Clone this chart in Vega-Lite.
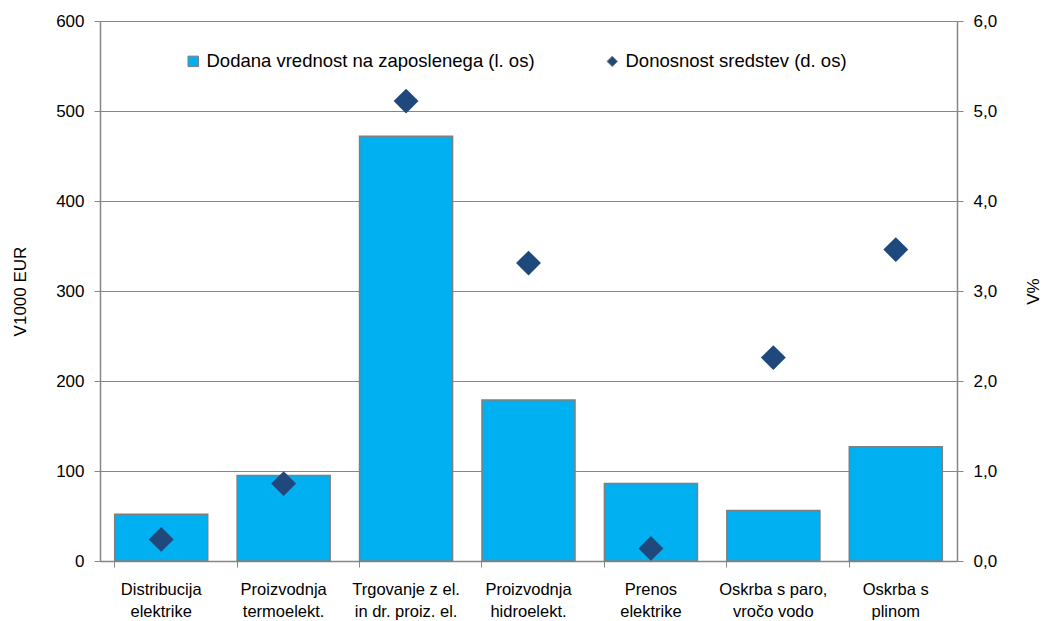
{
  "$schema": "https://vega.github.io/schema/vega-lite/v6.json",
  "autosize": "none",
  "width": 857,
  "height": 540,
  "padding": {"left": 100, "top": 21, "right": 88, "bottom": 60},
  "background": "white",
  "config": {
    "font": "Liberation Sans",
    "view": {"stroke": null},
    "axis": {"labelFont": "Liberation Sans", "titleFont": "Liberation Sans", "labelColor": "#000000", "titleColor": "#000000", "domainColor": "#868686", "tickColor": "#868686", "gridColor": "#868686", "labelFontSize": 17, "titleFontSize": 17, "titleFontWeight": "normal"}
  },
  "data": {
    "values": [
      {"cat": "Distribucija|elektrike", "series": "Dodana vrednost na zaposlenega (l. os)", "value": 52},
      {"cat": "Proizvodnja|termoelekt.", "series": "Dodana vrednost na zaposlenega (l. os)", "value": 95},
      {"cat": "Trgovanje z el.|in dr. proiz. el.", "series": "Dodana vrednost na zaposlenega (l. os)", "value": 472},
      {"cat": "Proizvodnja|hidroelekt.", "series": "Dodana vrednost na zaposlenega (l. os)", "value": 179},
      {"cat": "Prenos|elektrike", "series": "Dodana vrednost na zaposlenega (l. os)", "value": 86},
      {"cat": "Oskrba s paro,|vročo vodo", "series": "Dodana vrednost na zaposlenega (l. os)", "value": 56},
      {"cat": "Oskrba s|plinom", "series": "Dodana vrednost na zaposlenega (l. os)", "value": 127},
      {"cat": "Distribucija|elektrike", "series": "Donosnost sredstev (d. os)", "value": 0.24},
      {"cat": "Proizvodnja|termoelekt.", "series": "Donosnost sredstev (d. os)", "value": 0.86},
      {"cat": "Trgovanje z el.|in dr. proiz. el.", "series": "Donosnost sredstev (d. os)", "value": 5.11},
      {"cat": "Proizvodnja|hidroelekt.", "series": "Donosnost sredstev (d. os)", "value": 3.31},
      {"cat": "Prenos|elektrike", "series": "Donosnost sredstev (d. os)", "value": 0.14},
      {"cat": "Oskrba s paro,|vročo vodo", "series": "Donosnost sredstev (d. os)", "value": 2.26},
      {"cat": "Oskrba s|plinom", "series": "Donosnost sredstev (d. os)", "value": 3.46}
    ]
  },
  "encoding": {
    "x": {
      "field": "cat", "type": "nominal", "sort": null,
      "scale": {"paddingInner": 0.24, "paddingOuter": 0.12},
      "axis": {"title": null, "labelAngle": 0, "labelExpr": "split(datum.label, '|')", "labelLineHeight": 22, "labelPadding": 14, "tickSize": 6, "bandPosition": 0, "grid": false, "domainWidth": 1.5, "labelFontSize": 16.5, "labelLimit": 0}
    }
  },
  "layer": [
    {
      "transform": [{"filter": "datum.series === 'Dodana vrednost na zaposlenega (l. os)'"}],
      "mark": {"type": "bar", "stroke": "#7f7f7f", "strokeWidth": 1.5},
      "encoding": {
        "y": {"field": "value", "type": "quantitative", "scale": {"domain": [0, 600]},
          "axis": {"title": "V1000 EUR", "values": [0,100,200,300,400,500,600], "grid": true, "tickSize": 6, "labelPadding": 10, "titlePadding": 26, "domainWidth": 1.5, "gridWidth": 1}},
        "color": {"field": "series", "type": "nominal",
          "scale": {"domain": ["Dodana vrednost na zaposlenega (l. os)", "Donosnost sredstev (d. os)"], "range": ["#00B0F0", "#1F497D"]},
          "legend": {"title": null, "orient": "none", "legendX": 84, "legendY": 31, "direction": "horizontal", "columns": 2, "columnPadding": 68, "labelFontSize": 18.5, "labelFont": "Liberation Sans", "labelLimit": 0, "symbolSize": 110, "labelOffset": 4, "symbolStrokeColor": "#7f7f7f", "symbolStrokeWidth": 1}
        }
      }
    },
    {
      "transform": [{"filter": "datum.series === 'Donosnost sredstev (d. os)'"}],
      "mark": {"type": "point", "filled": true, "size": 620, "opacity": 1},
      "encoding": {
        "y": {"field": "value", "type": "quantitative", "scale": {"domain": [0, 6]},
          "axis": {"orient": "right", "title": "V%", "titleAngle": 270, "values": [0,1,2,3,4,5,6], "format": ".1f", "labelExpr": "replace(datum.label, '.', ',')", "grid": false, "tickSize": 6, "labelPadding": 10, "titlePadding": 46, "domainWidth": 1.5}},
        "color": {"field": "series", "type": "nominal"},
        "shape": {"field": "series", "type": "nominal",
          "scale": {"domain": ["Dodana vrednost na zaposlenega (l. os)", "Donosnost sredstev (d. os)"], "range": ["square", "diamond"]}}
      }
    }
  ],
  "resolve": {"scale": {"y": "independent"}}
}
